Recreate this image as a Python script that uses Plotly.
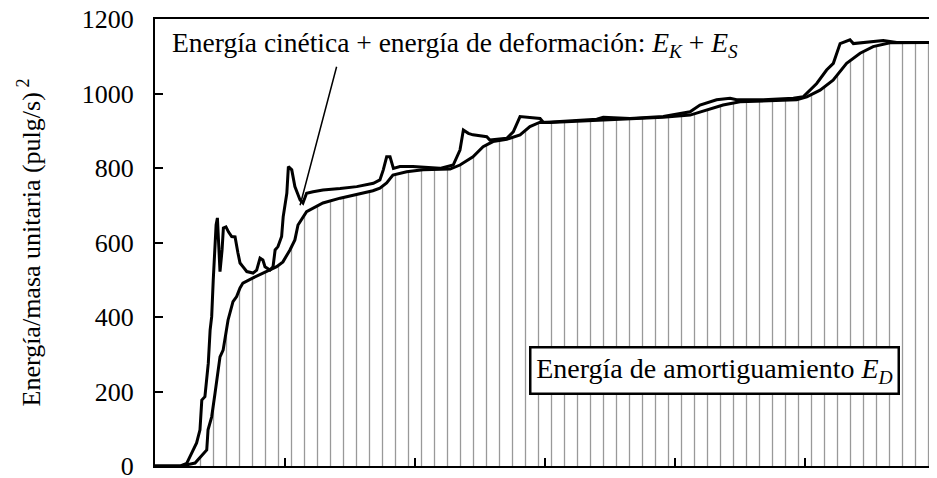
import plotly.graph_objects as go

# time (s) and energy per unit mass
t_damp = [0, 1.08, 1.54, 1.65, 1.99, 2.04, 2.18, 2.31, 2.42, 2.50, 2.62, 2.76, 2.81, 3.0,
          3.14, 3.27, 3.38, 3.77, 4.30, 4.68, 4.92, 5.19, 5.38, 5.5, 5.83, 6.46, 7.12,
          7.76, 8.38, 8.65, 8.91, 9.15, 9.68, 10.31, 11.35, 11.73, 12.23, 12.62, 13.0,
          13.53, 14.04, 14.42, 14.81, 15.19, 16.99, 18.27, 19.54, 20.58, 21.22, 21.85,
          22.5, 23.38, 24.68, 25.07, 25.58, 26.08, 26.6, 27.12, 27.62, 28.27, 30]
e_damp = [0, 1, 8, 16, 43, 97, 132, 196, 250, 293, 311, 374, 392, 441,
          455, 478, 491, 505, 522, 535, 548, 580, 607, 647, 683, 706, 719,
          730, 739, 746, 760, 781, 790, 795, 797, 808, 830, 857, 871,
          877, 889, 911, 923, 922, 927, 931, 936, 942, 956, 969,
          978, 980, 983, 991, 1009, 1036, 1081, 1108, 1126, 1136, 1137]

t_ks = [0, 1.0, 1.22, 1.47, 1.60, 1.73, 1.80, 1.92, 2.05, 2.12, 2.18, 2.24, 2.31, 2.35,
        2.40, 2.44, 2.50, 2.58, 2.63, 2.73, 2.83, 2.95, 3.08, 3.19, 3.27, 3.38, 3.53,
        3.77, 3.91, 4.04, 4.15, 4.23, 4.42, 4.54, 4.62, 4.73, 4.87, 4.93, 5.07, 5.13,
        5.26, 5.38, 5.58, 5.69, 5.83, 6.08, 6.46, 7.12, 7.76, 8.40, 8.65, 8.78, 8.91,
        9.04, 9.17, 9.42, 9.92, 10.96, 11.47, 11.73, 11.86, 12.05, 12.23, 12.76, 12.88,
        13.53, 13.78, 14.04, 14.55, 14.81, 14.94, 16.99, 17.24, 18.27, 19.55, 20.58,
        20.96, 21.6, 22.12, 22.37, 23.4, 24.55, 24.93, 25.45, 25.83, 26.09, 26.35,
        26.73, 26.86, 27.5, 28.01, 28.53, 30]
e_ks = [0, 1, 7, 43, 62, 97, 177, 186, 276, 365, 401, 499, 599, 647,
        666, 607, 522, 580, 639, 642, 628, 616, 615, 572, 545, 535, 522,
        518, 526, 558, 553, 535, 526, 535, 580, 589, 616, 669, 732, 804,
        795, 750, 714, 706, 732, 736, 741, 745, 750, 759, 768, 795, 830,
        830, 799, 804, 804, 799, 808, 848, 902, 893, 889, 884, 875,
        880, 897, 938, 936, 933, 922, 931, 936, 933, 938, 951,
        969, 983, 987, 983, 983, 987, 991, 1027, 1063, 1081, 1134,
        1144, 1134, 1139, 1142, 1137, 1137]

y_ticks = [0, 200, 400, 600, 800, 1000, 1200]

serif = "Liberation Serif"

fig = go.Figure()

# damping energy, hatched underneath
fig.add_trace(go.Scatter(
    x=t_damp, y=e_damp, mode="lines",
    line=dict(color="black", width=3),
    fill="tozeroy", fillcolor="white",
    fillpattern=dict(shape="|", size=13, solidity=0.1,
                     fgcolor="#333", bgcolor="white"),
    showlegend=False))

# kinetic + strain energy
fig.add_trace(go.Scatter(
    x=t_ks, y=e_ks, mode="lines",
    line=dict(color="black", width=3),
    showlegend=False))

fig.add_annotation(
    x=0.019, y=1132, xref="paper", yref="y", xanchor="left", yanchor="middle",
    text="Energía cinética + energía de deformación: <i>E<sub>K</sub></i> + <i>E<sub>S</sub></i>",
    showarrow=False, font=dict(family=serif, size=27.5, color="black"))

fig.add_annotation(
    x=5.58, y=700, ax=7.0, ay=1076, axref="x", ayref="y",
    text="", showarrow=True, arrowhead=0, arrowwidth=1.5, arrowcolor="black")

fig.add_annotation(
    x=21.5, y=256, xanchor="center", yanchor="middle",
    text="Energía de amortiguamiento <i>E<sub>D</sub></i>",
    width=362, height=40, align="center",
    showarrow=False, bgcolor="white", bordercolor="black", borderwidth=2.5,
    borderpad=2, font=dict(family=serif, size=28, color="black"))

fig.update_xaxes(
    range=[0, 30], showgrid=False, zeroline=False, automargin=False,
    showline=True, linecolor="black", linewidth=2, mirror=True,
    ticks="inside", ticklen=8, tickcolor="black", tickwidth=2,
    tickvals=[5, 10, 15, 20, 25], showticklabels=False)

fig.update_yaxes(
    range=[0, 1200], showgrid=False, zeroline=False, automargin=False,
    showline=True, linecolor="black", linewidth=2, mirror=True,
    ticks="inside", ticklen=8, tickcolor="black", tickwidth=2,
    tickvals=y_ticks, ticklabelstandoff=14, ticklabeloverflow="allow",
    tickfont=dict(family=serif, size=26, color="black"),
    title=dict(text="Energía/masa unitaria (pulg/s)<sup> 2</sup>",
               font=dict(family=serif, size=26, color="black"), standoff=34))

# page body keeps an 8px margin, so the figure is 8px smaller and shifted
fig.update_layout(
    width=929, height=470,
    margin=dict(l=147, r=2, t=11, b=12),
    paper_bgcolor="white", plot_bgcolor="white")

fig.write_html("out.html")
